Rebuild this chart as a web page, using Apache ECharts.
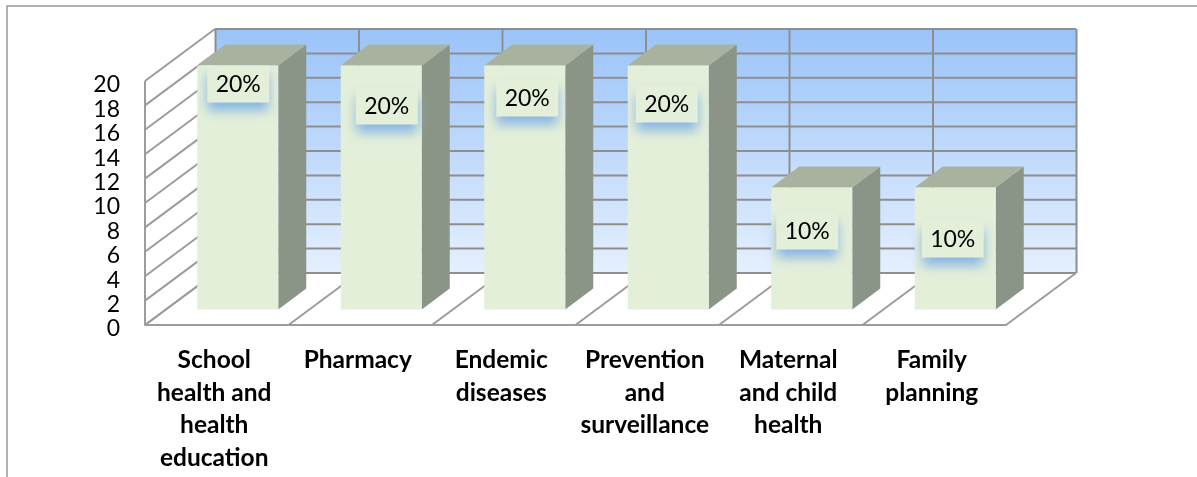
<!DOCTYPE html>
<html>
<head>
<meta charset="utf-8">
<style>
  html, body { margin: 0; padding: 0; background: #fff; }
  #chart { width: 1197px; height: 477px; }
</style>
</head>
<body>
<div id="chart"></div>
<script src="https://cdn.jsdelivr.net/npm/echarts@6/dist/echarts.min.js"></script>
<script>
const categories = [
  "School\nhealth and\nhealth\neducation",
  "Pharmacy",
  "Endemic\ndiseases",
  "Prevention\nand\nsurveillance",
  "Maternal\nand child\nhealth",
  "Family\nplanning"
];
const values = [20, 20, 20, 20, 10, 10];
const yTicks = [0, 2, 4, 6, 8, 10, 12, 14, 16, 18, 20];

// hand placed data labels, px from the top left of each bar's front face
const labelDx = [10, 15, 12, 8, 5, 7];
const labelDy = [0, 22, 14, 20, 25, 33];

const FONT = "Lato";
const DEPTH_X = 70;
const DEPTH_Y = -52;
const LINE = "#8e8e8e";
const LINE_LIGHT = "#9c9c9c";

const chart = echarts.init(document.getElementById("chart"));

const seg = (a, b, color, width) => ({
  type: "line",
  shape: { x1: a[0], y1: a[1], x2: b[0], y2: b[1] },
  style: { stroke: color, lineWidth: width }
});

// back wall and floor, behind the bars
const renderWalls = (params, api) => {
  const band = api.size([1, 0])[0];
  const x0 = api.coord([0, 0])[0] - band / 2;
  const y0 = api.coord([0, 0])[1];
  const yTop = api.coord([0, 20])[1];
  const children = [
    {
      type: "polygon",
      shape: {
        points: [
          [x0 + DEPTH_X, yTop + DEPTH_Y],
          [x0 + band * 6 + DEPTH_X, yTop + DEPTH_Y],
          [x0 + band * 6 + DEPTH_X, y0 + DEPTH_Y],
          [x0 + DEPTH_X, y0 + DEPTH_Y]
        ]
      },
      style: {
        fill: new echarts.graphic.LinearGradient(0, 0, 0, 1, [
          { offset: 0, color: "#9ac3f8" },
          { offset: 1, color: "#e5f0fe" }
        ])
      }
    }
  ];
  yTicks.forEach(t => {
    const y = api.coord([0, t])[1];
    children.push(seg([x0, y], [x0 + DEPTH_X, y + DEPTH_Y], LINE_LIGHT, 2));
    children.push(seg([x0 + DEPTH_X, y + DEPTH_Y], [x0 + band * 6 + DEPTH_X, y + DEPTH_Y], LINE, 2));
  });
  for (let i = 0; i <= 6; i++) {
    const x = x0 + band * i;
    children.push(seg([x, y0], [x + DEPTH_X, y0 + DEPTH_Y], LINE_LIGHT, 2));
    children.push(seg([x + DEPTH_X + 0.5, y0 + DEPTH_Y], [x + DEPTH_X + 0.5, yTop + DEPTH_Y], LINE, 2));
  }
  children.push(seg([x0, y0], [x0, yTop], LINE_LIGHT, 2));
  return { type: "group", children };
};

const renderBar = (params, api) => {
  const i = api.value(0);
  const v = api.value(1);
  const bottom = api.coord([i, 0]);
  const top = api.coord([i, v]);
  // bar sits from 30% to 70% of the floor depth
  const dx = DEPTH_X * 0.4;
  const dy = DEPTH_Y * 0.4;
  const w = 81;
  const l = bottom[0] + DEPTH_X * 0.3 - 40.5;
  const r = l + w;
  const b = bottom[1] + DEPTH_Y * 0.3;
  const t = top[1] + DEPTH_Y * 0.3;
  const boxX = l + labelDx[params.dataIndex];
  const boxY = t + labelDy[params.dataIndex];
  return {
    type: "group",
    children: [
      {
        type: "polygon",
        shape: { points: [[r, t], [r + dx, t + dy], [r + dx, b + dy], [r, b]] },
        style: { fill: "#8b9587" }
      },
      {
        type: "polygon",
        shape: { points: [[l, t], [l + dx, t + dy], [r + dx, t + dy], [r, t]] },
        style: { fill: "#a9b29f" }
      },
      {
        type: "rect",
        shape: { x: l, y: t, width: w, height: b - t },
        style: { fill: "#e3efd9" }
      },
      {
        type: "rect",
        shape: { x: boxX, y: boxY, width: 62, height: 37 },
        style: {
          fill: "#e3efd9",
          shadowColor: "#86b4e6",
          shadowBlur: 11,
          shadowOffsetY: 9
        }
      },
      {
        type: "text",
        style: {
          x: boxX + 31,
          y: boxY + 19,
          text: v + "%",
          fill: "#000",
          font: "23px " + FONT,
          align: "center",
          verticalAlign: "middle"
        }
      }
    ]
  };
};

chart.setOption({
  animation: false,
  grid: { left: 145, top: 81, width: 861, height: 244 },
  xAxis: {
    type: "category",
    data: categories,
    axisTick: { show: false },
    axisLine: { show: true, lineStyle: { color: LINE_LIGHT, width: 2 } },
    axisLabel: {
      interval: 0,
      margin: 19,
      padding: [0, 5, 0, 0],
      color: "#000",
      fontFamily: FONT,
      fontWeight: "bold",
      fontSize: 24.5,
      lineHeight: 32.5,
      verticalAlign: "top"
    }
  },
  yAxis: {
    type: "value",
    min: 0,
    max: 20,
    interval: 2,
    axisLine: { show: false },
    axisTick: { show: false },
    splitLine: { show: false },
    axisLabel: {
      margin: 25,
      verticalAlign: "top",
      lineHeight: 8,
      color: "#000",
      fontFamily: FONT,
      fontSize: 23
    }
  },
  graphic: [
    {
      type: "polyline",
      shape: { points: [[7, 477], [7, 6], [1197, 6]] },
      style: { stroke: "#999", lineWidth: 1.5, fill: "none" }
    }
  ],
  series: [
    {
      type: "custom",
      silent: true,
      z: 1,
      renderItem: renderWalls,
      data: [0]
    },
    {
      type: "custom",
      silent: true,
      z: 2,
      renderItem: renderBar,
      encode: { x: 0, y: 1 },
      data: values.map((v, i) => [i, v])
    }
  ]
});
window.addEventListener("resize", () => chart.resize());
</script>
</body>
</html>
